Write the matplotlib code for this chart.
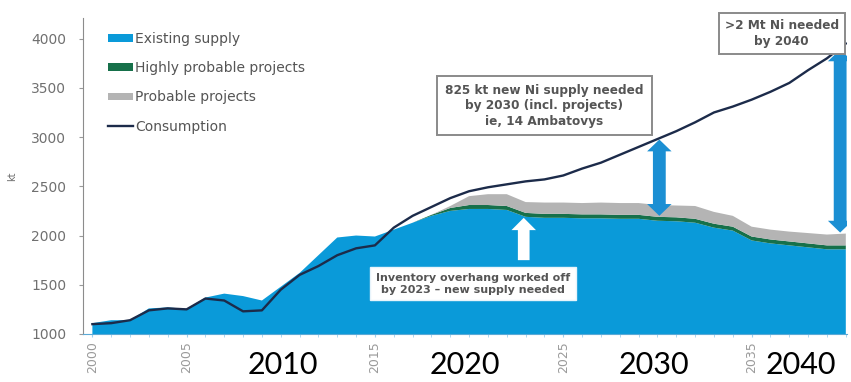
import numpy as np
import matplotlib
matplotlib.use("Agg")
import matplotlib.pyplot as plt
from matplotlib.patches import FancyArrow, Polygon

plt.rcParams['font.family'] = ['DejaVu Sans']

years = np.arange(2000, 2041)

# kt per year
existing = [1110, 1140, 1140, 1260, 1270, 1255, 1370, 1410, 1385, 1340,
            1480, 1620, 1800, 1980, 2000, 1990, 2060, 2130, 2200, 2250,
            2270, 2270, 2260, 2190, 2180, 2180, 2175, 2175, 2170, 2170,
            2150, 2145, 2130, 2080, 2050, 1950, 1920, 1900, 1880, 1860, 1860]
highly_probable = [0] * 18 + [10, 30] + [40] * 21
probable = [0] * 19 + [20, 90, 110, 120, 110, 115, 115, 115, 120, 120, 120,
                       120, 120, 130, 120, 110, 100, 100, 100, 105, 110, 120]
consumption = [1100, 1110, 1140, 1240, 1260, 1250, 1360, 1340, 1230, 1240,
               1450, 1600, 1690, 1800, 1870, 1900, 2080, 2200, 2290, 2380,
               2450, 2490, 2520, 2550, 2570, 2610, 2680, 2740, 2820, 2900,
               2980, 3060, 3150, 3250, 3310, 3380, 3460, 3550, 3680, 3800, 3950]

series_labels = ["Existing supply", "Highly probable projects", "Probable projects", "Consumption"]
x_ticks = [2000, 2005, 2015, 2025, 2035]
y_ticks = [1000, 1500, 2000, 2500, 3000, 3500, 4000]
decade_labels = ["2010", "2020", "2030", "2040"]
decade_pos = [2010.1, 2019.8, 2029.8, 2037.6]

# gap arrows: (year, bottom, top)
gap_arrows = [(2030.1, 2200, 2975), (2039.7, 2030, 3890)]
overhang_arrow = (2022.9, 1750, 2180)

BLUE = "#0a9ad9"
ARROW_BLUE = "#1b8fd3"
GREEN = "#16704a"
GREY = "#b4b4b4"
NAVY = "#1c2b4a"
TXT = "#555555"


def double_arrow(x, y0, y1, w=0.34, hw=0.65, hl=120):
    pts = [(x, y0), (x + hw, y0 + hl), (x + w, y0 + hl), (x + w, y1 - hl),
           (x + hw, y1 - hl), (x, y1), (x - hw, y1 - hl), (x - w, y1 - hl),
           (x - w, y0 + hl), (x - hw, y0 + hl)]
    return Polygon(pts, closed=True, fc=ARROW_BLUE, ec="none", zorder=5)


fig = plt.figure(figsize=(8.51, 3.82), dpi=100)
ax = fig.add_axes([0.0975, 0.1257, 0.8975, 0.8273])

polys = ax.stackplot(years, existing, highly_probable, probable,
                     colors=[BLUE, GREEN, GREY], linewidth=0, zorder=2)
line, = ax.plot(years, consumption, color=NAVY, lw=1.7, zorder=4)

ax.set_xlim(1999.5, 2040.05)
ax.set_ylim(1000, 4210)

# white arrow for the inventory overhang
xa, y0, y1 = overhang_arrow
ax.add_patch(FancyArrow(xa, y0, 0, y1 - y0, width=0.62, head_width=1.3,
                        head_length=125, length_includes_head=True,
                        color="white", lw=0, zorder=5))

for xa, y0, y1 in gap_arrows:
    ax.add_patch(double_arrow(xa, y0, y1))

box_kw = dict(fontweight="bold", color=TXT, ha="center", va="center",
              linespacing=1.25, zorder=6)
ax.text(2024.0, 3320, "825 kt new Ni supply needed\nby 2030 (incl. projects)\nie, 14 Ambatovys",
        fontsize=8.7, bbox=dict(boxstyle="square,pad=0.65", fc="white", ec="#8a8a8a", lw=1.4),
        **box_kw)
ax.text(2036.6, 4050, ">2 Mt Ni needed\nby 2040",
        fontsize=8.7, bbox=dict(boxstyle="square,pad=0.5", fc="white", ec="#8a8a8a", lw=1.4),
        **box_kw)
ax.text(2020.2, 1510, "Inventory overhang worked off\nby 2023 \u2013 new supply needed",
        fontsize=8, bbox=dict(boxstyle="square,pad=0.5", fc="white", ec="#e8f4fb", lw=1.0),
        **box_kw)

ax.legend(polys + [line], series_labels, loc="upper left",
          bbox_to_anchor=(0.0326, 0.956), frameon=False, fontsize=10,
          labelcolor=TXT, handlelength=1.8, handleheight=0.45,
          handletextpad=0.15, labelspacing=1.1, borderpad=0, borderaxespad=0)

ax.set_xticks(x_ticks)
ax.set_xticklabels([str(t) for t in x_ticks], rotation=90, fontsize=9, color="#9a9a9a")
ax.set_xticks(years, minor=True)
ax.set_yticks(y_ticks)
ax.set_yticklabels([str(t) for t in y_ticks], fontsize=10, color="#707070")
ax.tick_params(axis="y", length=3, color="#9a9a9a", pad=9)
ax.tick_params(axis="x", which="both", length=2, color="#9fd0ec", pad=3)
ax.set_ylabel("kt", fontsize=7, color="#6e6e6e", labelpad=10)

for s in ("top", "right"):
    ax.spines[s].set_visible(False)
ax.spines["left"].set_color("#8c8c8c")
ax.spines["bottom"].set_color("#5aa9d6")

for lab, xp in zip(decade_labels, decade_pos):
    ax.text(xp, -0.055, lab, transform=ax.get_xaxis_transform(), ha="center", va="top",
            fontsize=22, family="Lato", color="black", clip_on=False)

fig.savefig("out.png", dpi=100)
